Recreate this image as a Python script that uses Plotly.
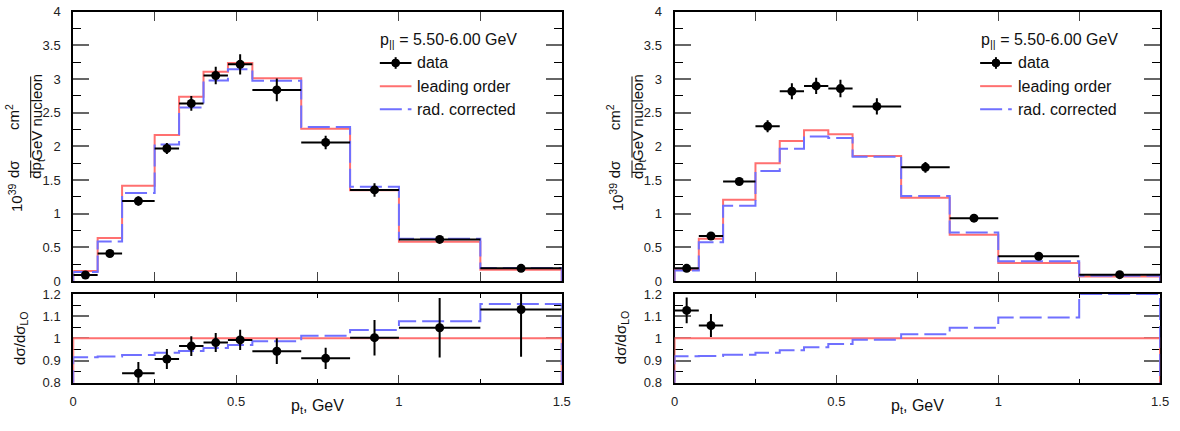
import plotly.graph_objects as go

# ---------------- data ----------------
edges = [0, 0.075, 0.15, 0.25, 0.325, 0.4, 0.475, 0.55, 0.7, 0.85, 1.0, 1.25, 1.5]

# left panel
data_l = [0.09, 0.41, 1.19, 1.97, 2.64, 3.055, 3.22, 2.84, 2.06, 1.355, 0.62, 0.19]
err_l = [0.02, 0.03, 0.07, 0.08, 0.11, 0.13, 0.15, 0.17, 0.10, 0.10, 0.05, 0.02]
lo_l = [0.15, 0.64, 1.415, 2.17, 2.74, 3.11, 3.24, 3.015, 2.264, 1.35, 0.585, 0.17]
rc_l = [0.137, 0.587, 1.31, 2.03, 2.58, 2.98, 3.146, 2.976, 2.29, 1.40, 0.63, 0.196]
ratio_rc_l = [0.915, 0.918, 0.925, 0.935, 0.943, 0.957, 0.970, 0.987, 1.012, 1.038, 1.077, 1.155]
ratio_lo_l = [1, 1, 1, 1, 1, 1, 1, 1, 1, 1, 1, 1]
ratio_data_l = [0.60, 0.64, 0.843, 0.907, 0.965, 0.981, 0.993, 0.942, 0.910, 1.003, 1.048, 1.130]
ratio_err_l = [0.13, 0.05, 0.05, 0.045, 0.044, 0.043, 0.046, 0.058, 0.048, 0.080, 0.134, 0.213]

# right panel
data_r = [0.19, 0.67, 1.48, 2.30, 2.82, 2.90, 2.86, 2.595, 1.69, 0.935, 0.37, 0.096]
err_r = [0.02, 0.03, 0.05, 0.09, 0.12, 0.12, 0.13, 0.12, 0.08, 0.05, 0.03, 0.01]
lo_r = [0.17, 0.63, 1.21, 1.75, 2.08, 2.24, 2.18, 1.86, 1.24, 0.69, 0.27, 0.067]
rc_r = [0.156, 0.579, 1.12, 1.636, 1.968, 2.15, 2.126, 1.849, 1.264, 0.723, 0.295, 0.081]
ratio_rc_r = [0.919, 0.920, 0.926, 0.935, 0.946, 0.960, 0.975, 0.994, 1.019, 1.048, 1.094, 1.20]
ratio_lo_r = [1, 1, 1, 1, 1, 1, 1, 1, 1, 1, 1, 1]
ratio_data_r = [1.126, 1.058, 1.22, 1.31, 1.36, 1.29, 1.31, 1.40, 1.36, 1.36, 1.37, 1.43]
ratio_err_r = [0.058, 0.052, 0.05, 0.06, 0.07, 0.06, 0.07, 0.08, 0.07, 0.08, 0.12, 0.20]

legend_title = "p<sub>||</sub> = 5.50-6.00 GeV"
legend_labels = ["data", "leading order", "rad. corrected"]
x_title = "p<sub>t</sub>, GeV"
ratio_title = "dσ/dσ<sub>LO</sub>"

# ---------------- style ----------------
W, H = 1180, 431
FONT = "Liberation Sans, Arial, Helvetica, sans-serif"
RED = "#ff7070"
BLUE = "#7070ff"
DASH = "22px,6px"

centers = [(edges[i] + edges[i + 1]) / 2 for i in range(len(edges) - 1)]
halfw = [(edges[i + 1] - edges[i]) / 2 for i in range(len(edges) - 1)]


def fx(px):
    return px / W


def fy(py):
    return 1 - py / H


def hist_xy(vals):
    xs = [edges[0]] + edges[:-1] + [edges[-1]]
    ys = [0] + list(vals) + [0]
    return xs, ys


fig = go.Figure()


def add_hist(vals, color, dash, xa, ya):
    xs, ys = hist_xy(vals)
    fig.add_trace(go.Scatter(x=xs, y=ys, mode="lines", line_shape="hv",
                             line=dict(color=color, width=2, dash=dash),
                             xaxis=xa, yaxis=ya, showlegend=False, hoverinfo="skip"))


def add_data(vals, errs, xa, ya, lo=None, hi=None):
    xs, ys, ex, ey = [], [], [], []
    for c, hw, v, e in zip(centers, halfw, vals, errs):
        if lo is not None and (v < lo or v > hi):
            continue
        xs.append(c); ys.append(v); ex.append(hw); ey.append(e)
    fig.add_trace(go.Scatter(x=xs, y=ys, mode="markers",
                             marker=dict(color="black", size=9),
                             error_x=dict(type="data", array=ex, thickness=2, width=0, color="black"),
                             error_y=dict(type="data", array=ey, thickness=2, width=0, color="black"),
                             xaxis=xa, yaxis=ya, showlegend=False, hoverinfo="skip"))


# top-left
add_hist(lo_l, RED, "solid", "x", "y")
add_hist(rc_l, BLUE, DASH, "x", "y")
add_data(data_l, err_l, "x", "y")
# bottom-left
add_hist(ratio_lo_l, RED, "solid", "x2", "y2")
add_hist(ratio_rc_l, BLUE, DASH, "x2", "y2")
add_data(ratio_data_l, ratio_err_l, "x2", "y2", 0.8, 1.2)
# top-right
add_hist(lo_r, RED, "solid", "x3", "y3")
add_hist(rc_r, BLUE, DASH, "x3", "y3")
add_data(data_r, err_r, "x3", "y3")
# bottom-right
add_hist(ratio_lo_r, RED, "solid", "x4", "y4")
add_hist(ratio_rc_r, BLUE, DASH, "x4", "y4")
add_data(ratio_data_r, ratio_err_r, "x4", "y4", 0.8, 1.2)

LX = [fx(70), fx(564)]
RX = [fx(678), fx(1169)]
TOPY = [fy(284), fy(5)]
BOTY = [fy(389.3), fy(297.3)]

tickfont = dict(family=FONT, size=13, color="#222")

base = dict(showline=True, linecolor="black", linewidth=2, mirror="ticks",
            ticks="inside", showgrid=False, zeroline=False, layer="below traces",
            fixedrange=True)


def top_x(dom, anchor):
    return dict(base, domain=dom, anchor=anchor, range=[0, 1.5], tickmode="linear",
                tick0=0, dtick=0.25, ticklen=9, tickcolor="#444", tickwidth=1,
                showticklabels=False)


def bot_x(dom, anchor):
    return dict(base, domain=dom, anchor=anchor, range=[0, 1.5], tickmode="array",
                tickvals=[0, 0.5, 1, 1.5], ticktext=["0", "0.5", "1", "1.5"],
                ticklen=8, tickcolor="#444", tickwidth=1, tickfont=tickfont,
                ticklabelstandoff=6,
                minor=dict(tickmode="array", tickvals=[0.25, 0.75, 1.25], ticklen=4,
                           tickcolor="black", tickwidth=1, ticks="inside"))


def top_y(dom, anchor):
    return dict(base, domain=dom, anchor=anchor, range=[0, 4], tickmode="array",
                tickvals=[0, 0.5, 1, 1.5, 2, 2.5, 3, 3.5, 4],
                ticktext=["0", "0.5", "1", "1.5", "2", "2.5", "3", "3.5", "4"],
                ticklen=16, tickcolor="#666", tickwidth=1.5, tickfont=tickfont,
                ticklabelstandoff=8,
                minor=dict(tickmode="array",
                           tickvals=[0.25, 0.75, 1.25, 1.75, 2.25, 2.75, 3.25, 3.75],
                           ticklen=8, tickcolor="black", tickwidth=1, ticks="inside"))


def bot_y(dom, anchor):
    return dict(base, domain=dom, anchor=anchor, range=[0.8, 1.2], tickmode="array",
                tickvals=[0.8, 0.9, 1.0, 1.1, 1.2], ticktext=["0.8", "0.9", "1", "1.1", "1.2"],
                ticklen=16, tickcolor="#666", tickwidth=1.5, tickfont=tickfont,
                ticklabelstandoff=8,
                minor=dict(tickmode="array", tickvals=[0.85, 0.95, 1.05, 1.15],
                           ticklen=8, tickcolor="black", tickwidth=1, ticks="inside"))


annotations = []
shapes = []

SH = -12  # empirical correction for rotated annotation placement


def rot(text, px, py, size=15):
    annotations.append(dict(text=text, x=fx(px + SH), y=fy(py), xref="paper", yref="paper",
                            textangle=-90, showarrow=False,
                            font=dict(family=FONT, size=size, color="#111"),
                            xanchor="center", yanchor="middle"))


def add_ytitle(off):
    rot("10<sup>39</sup>", 23 + off, 197)
    rot("dσ", 21 + off, 168)
    rot("dp<sub>t</sub>", 45 + off, 168)
    rot("cm<sup>2</sup>", 20 + off, 114)
    rot("GeV nucleon", 44 + off, 114)
    shapes.append(dict(type="line", xref="paper", yref="paper", x0=fx(27 + off), x1=fx(27 + off),
                       y0=fy(159), y1=fy(177), line=dict(color="black", width=1)))
    shapes.append(dict(type="line", xref="paper", yref="paper", x0=fx(27 + off), x1=fx(27 + off),
                       y0=fy(72), y1=fy(156), line=dict(color="black", width=1)))
    rot(ratio_title, 28 + off, 343)


def add_legend(off):
    lf = dict(family=FONT, size=16, color="#111")
    annotations.append(dict(text=legend_title, x=fx(521 + off), y=fy(35), xref="paper", yref="paper",
                            showarrow=False, font=lf, xanchor="right", yanchor="middle"))
    rows = [58, 82, 106]
    for lab, r in zip(legend_labels, rows):
        annotations.append(dict(text=lab, x=fx(416 + off), y=fy(r), xref="paper", yref="paper",
                                showarrow=False, font=lf, xanchor="left", yanchor="middle"))
    # data symbol
    shapes.append(dict(type="line", xref="paper", yref="paper", x0=fx(380 + off), x1=fx(412 + off),
                       y0=fy(58), y1=fy(58), line=dict(color="black", width=2)))
    shapes.append(dict(type="line", xref="paper", yref="paper", x0=fx(396 + off), x1=fx(396 + off),
                       y0=fy(52), y1=fy(64), line=dict(color="black", width=2)))
    shapes.append(dict(type="circle", xref="paper", yref="paper", x0=fx(392 + off), x1=fx(400 + off),
                       y0=fy(54), y1=fy(62), fillcolor="black", line=dict(color="black", width=1)))
    shapes.append(dict(type="line", xref="paper", yref="paper", x0=fx(380 + off), x1=fx(412 + off),
                       y0=fy(82), y1=fy(82), line=dict(color=RED, width=2)))
    shapes.append(dict(type="line", xref="paper", yref="paper", x0=fx(380 + off), x1=fx(412 + off),
                       y0=fy(106), y1=fy(106), line=dict(color=BLUE, width=2, dash=DASH)))


def add_xtitle(center_px):
    annotations.append(dict(text=x_title, x=fx(center_px), y=fy(402), xref="paper", yref="paper",
                            showarrow=False, font=dict(family=FONT, size=16, color="#111"),
                            xanchor="center", yanchor="top"))


add_ytitle(0)
add_ytitle(608)
add_legend(0)
add_legend(607)
add_xtitle(317)
add_xtitle(924)

fig.update_layout(
    width=W, height=H, margin=dict(l=0, r=0, t=0, b=0),
    paper_bgcolor="white", plot_bgcolor="white",
    font=dict(family=FONT, color="#111"),
    showlegend=False,
    xaxis=top_x(LX, "y"), yaxis=top_y(TOPY, "x"),
    xaxis2=bot_x(LX, "y2"), yaxis2=bot_y(BOTY, "x2"),
    xaxis3=top_x(RX, "y3"), yaxis3=top_y(TOPY, "x3"),
    xaxis4=bot_x(RX, "y4"), yaxis4=bot_y(BOTY, "x4"),
    annotations=annotations, shapes=shapes,
)

fig.write_html("out.html")
